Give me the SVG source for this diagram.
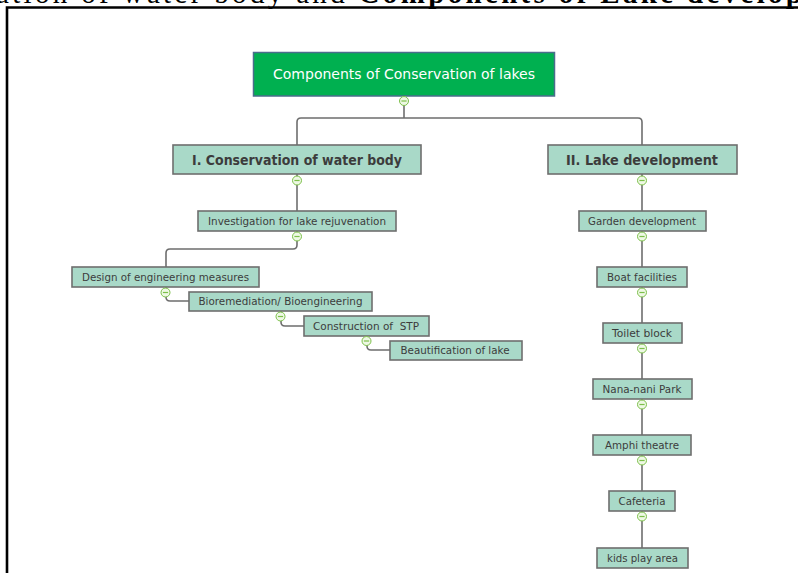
<svg xmlns="http://www.w3.org/2000/svg" width="798" height="573" viewBox="0 0 798 573">
<style>
.box{fill:#a9d9c8;stroke:#6e6e6e;stroke-width:1.6}
.t{font-family:"DejaVu Sans",Verdana,sans-serif;font-size:10.4px;fill:#3c3c3c;text-anchor:middle}
.tb{font-family:"DejaVu Sans",Verdana,sans-serif;font-size:13.5px;font-weight:bold;fill:#3c3c3c;text-anchor:middle}
.conn{fill:none;stroke:#6e6e6e;stroke-width:1.6}
.cc{fill:#eef8e4;stroke:#7cc04a;stroke-width:1}
.cm{stroke:#7cc04a;stroke-width:1.2}
</style>
<defs>
<g id="col"><circle class="cc" r="4.5"/><line class="cm" x1="-2.6" y1="0" x2="2.6" y2="0"/></g>
</defs>
<rect x="0" y="0" width="798" height="573" fill="#ffffff"/>
<text x="-4" y="3" font-family="Liberation Serif,serif" font-size="29" fill="#000" textLength="806" lengthAdjust="spacing">ation of water body and <tspan font-weight="bold">Components of Lake develop</tspan></text>
<path d="M7,573 V7.5 H798" fill="none" stroke="#000" stroke-width="2.6"/>

<g id="connectors">
<path class="conn" d="M404,96 V118"/>
<path class="conn" d="M297,146 V122 Q297,118 301,118 H638 Q642,118 642,122 V146"/>
<path class="conn" d="M297,174 V211"/>
<path class="conn" d="M297,231 V245 Q297,249 293,249 H170 Q166,249 166,253 V267"/>
<path class="conn" d="M166,287 V297 Q166,301 170,301 H189"/>
<path class="conn" d="M281,311 V322 Q281,326 285,326 H304"/>
<path class="conn" d="M367,336 V346 Q367,350 371,350 H390"/>
<path class="conn" d="M642,174 V211 M642,231 V267 M642,287 V323 M642,343 V379 M642,399 V435 M642,455 V491 M642,511 V548"/>
</g>

<g id="root">
<rect x="253.5" y="52.5" width="301" height="43.5" fill="#00b050" stroke="#4a6d8c" stroke-width="1.5"/>
<text x="404" y="79" font-family="DejaVu Sans,Verdana,sans-serif" font-size="14" fill="#ffffff" text-anchor="middle" textLength="262" lengthAdjust="spacingAndGlyphs">Components of Conservation of lakes</text>
</g>

<g id="n1">
<rect class="box" x="173" y="145" width="248" height="29"/>
<text class="tb" x="297" y="164.5" textLength="210" lengthAdjust="spacingAndGlyphs">I. Conservation of water body</text>
</g>
<g id="n2">
<rect class="box" x="548" y="145" width="189" height="29"/>
<text class="tb" x="642" y="164.5" textLength="152" lengthAdjust="spacingAndGlyphs">II. Lake development</text>
</g>

<g id="n1a"><rect class="box" x="198" y="211" width="198" height="20"/><text class="t" x="297" y="224.8" textLength="178" lengthAdjust="spacingAndGlyphs">Investigation for lake rejuvenation</text></g>
<g id="n1b"><rect class="box" x="72" y="267" width="187" height="20"/><text class="t" x="165.5" y="280.8" textLength="167" lengthAdjust="spacingAndGlyphs">Design of engineering measures</text></g>
<g id="n1c"><rect class="box" x="189" y="292" width="183" height="19"/><text class="t" x="280.5" y="305.3" textLength="164" lengthAdjust="spacingAndGlyphs">Bioremediation/ Bioengineering</text></g>
<g id="n1d"><rect class="box" x="304" y="316" width="125" height="20"/><text class="t" x="366" y="329.8" xml:space="preserve" textLength="106" lengthAdjust="spacingAndGlyphs">Construction of  STP</text></g>
<g id="n1e"><rect class="box" x="390" y="341" width="132" height="19"/><text class="t" x="455" y="354.3" textLength="109" lengthAdjust="spacingAndGlyphs">Beautification of lake</text></g>

<g id="n2a"><rect class="box" x="579" y="211" width="127" height="20"/><text class="t" x="642" y="224.8" textLength="108" lengthAdjust="spacingAndGlyphs">Garden development</text></g>
<g id="n2b"><rect class="box" x="597" y="267" width="90" height="20"/><text class="t" x="642" y="280.8" textLength="70" lengthAdjust="spacingAndGlyphs">Boat facilities</text></g>
<g id="n2c"><rect class="box" x="603" y="323" width="79" height="20"/><text class="t" x="642" y="336.8" textLength="60" lengthAdjust="spacingAndGlyphs">Toilet block</text></g>
<g id="n2d"><rect class="box" x="593" y="379" width="99" height="20"/><text class="t" x="642" y="392.8" textLength="79" lengthAdjust="spacingAndGlyphs">Nana-nani Park</text></g>
<g id="n2e"><rect class="box" x="593" y="435" width="98" height="20"/><text class="t" x="642" y="448.8" textLength="74" lengthAdjust="spacingAndGlyphs">Amphi theatre</text></g>
<g id="n2f"><rect class="box" x="609" y="491" width="66" height="20"/><text class="t" x="642" y="504.8" textLength="47" lengthAdjust="spacingAndGlyphs">Cafeteria</text></g>
<g id="n2g"><rect class="box" x="597" y="548" width="91" height="20"/><text class="t" x="642.5" y="561.8" textLength="71" lengthAdjust="spacingAndGlyphs">kids play area</text></g>

<g id="collapse">
<use href="#col" x="404" y="101"/>
<use href="#col" x="297" y="180.5"/>
<use href="#col" x="297" y="236.5"/>
<use href="#col" x="165.5" y="292.5"/>
<use href="#col" x="280.5" y="316.5"/>
<use href="#col" x="366.5" y="341"/>
<use href="#col" x="642" y="180.5"/>
<use href="#col" x="642" y="236.5"/>
<use href="#col" x="642" y="292.5"/>
<use href="#col" x="642" y="348.5"/>
<use href="#col" x="642" y="404.5"/>
<use href="#col" x="642" y="460.5"/>
<use href="#col" x="642" y="516.5"/>
</g>
</svg>
